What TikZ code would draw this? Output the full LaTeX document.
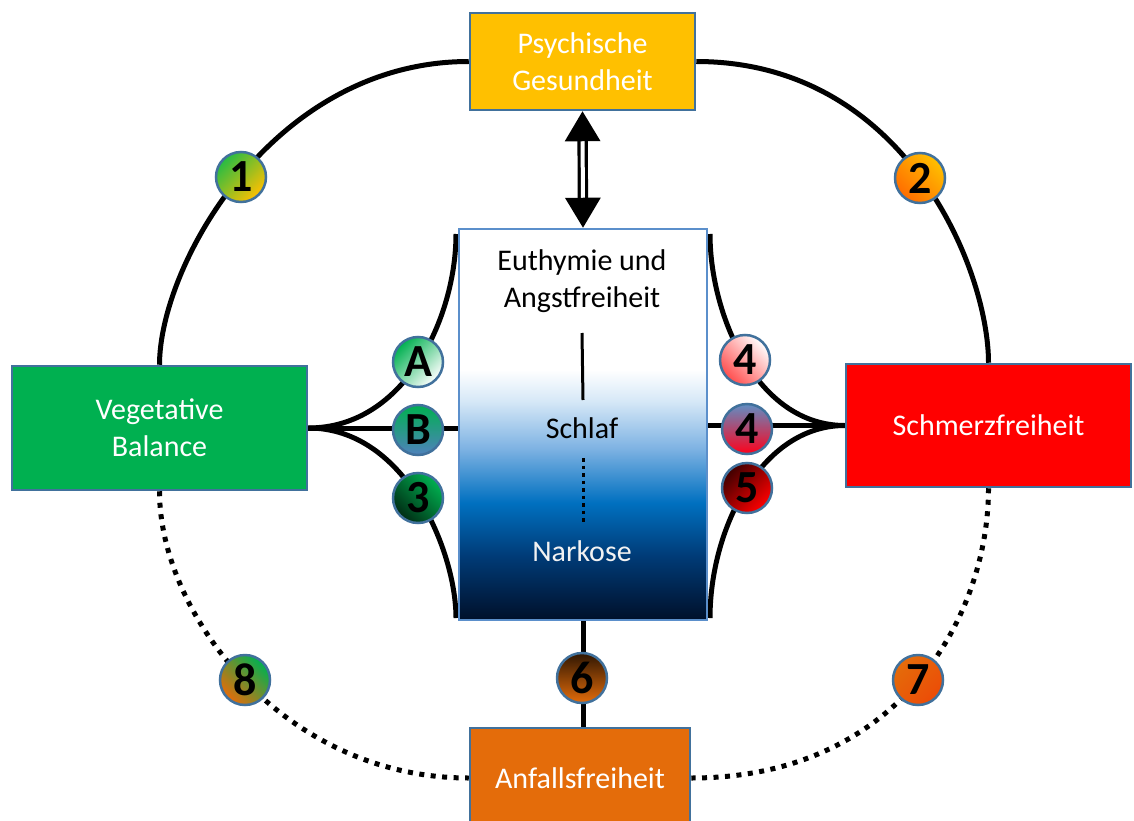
\documentclass[tikz,border=0pt]{standalone}
\usepackage{fontspec}
\setmainfont{Carlito}
\usetikzlibrary{arrows.meta,calc,backgrounds}
\definecolor{bordc}{HTML}{41719C}
\definecolor{ctrbord}{HTML}{5B8FCB}
\definecolor{gold}{HTML}{FFC000}
\definecolor{vgreen}{HTML}{00B050}
\definecolor{sred}{HTML}{FF0000}
\definecolor{aorange}{HTML}{E46C0A}
\definecolor{navyd}{HTML}{00102A}
\definecolor{navym}{HTML}{003A75}
\definecolor{bluem}{HTML}{0070C0}
\definecolor{bluel}{HTML}{7FB3E3}
\definecolor{bluevl}{HTML}{D6E8F7}
\definecolor{nwhite}{HTML}{F2F2F2}
\definecolor{sblue}{HTML}{4F81BD}
\pgfdeclareverticalshading{ctrshade}{100bp}{color(0bp)=(navyd); color(25bp)=(navyd); color(33bp)=(navym); color(40bp)=(bluem); color(47bp)=(bluel); color(53bp)=(bluevl); color(57bp)=(white); color(100bp)=(white)}
\begin{document}
\begin{tikzpicture}[x=1pt,y=-1pt,
  box/.style={draw=bordc, line width=2.5pt, inner sep=0pt, text=white,
    font=\fontsize{30}{37}\selectfont, align=center},
  conn/.style={line width=5pt, black},
  dotconn/.style={line width=5pt, black, dash pattern=on 5pt off 6.5pt},
  badge/.style={circle, draw=bordc, line width=2.5pt, minimum size=50pt,
    inner sep=0pt, font=\fontsize{46}{46}\selectfont\bfseries},
  ctext/.style={font=\fontsize{30}{37}\selectfont, align=center, inner sep=0pt},
  dblarr/.style={line width=3.2pt, double=white, double distance=4pt,
    {Triangle[length=30pt,width=35pt]}-{Triangle[length=30pt,width=35pt]}},
]
\path[use as bounding box] (0,0) rectangle (1134,821);
\clip (0,0) rectangle (1134,821);

% boxes
\node[box, fill=gold, minimum width=225pt, minimum height=97pt] (psy) at (582.5,61.5) {Psychische\\Gesundheit};
\node[box, fill=vgreen, minimum width=295pt, minimum height=124pt] (veg) at (159.5,428) {Vegetative\\Balance};
\node[box, fill=sred, minimum width=285pt, minimum height=123pt] (schm) at (988.5,425.5) {Schmerzfreiheit};
\node[box, fill=aorange, minimum width=220pt, minimum height=100pt] (anf) at (580,778) {Anfallsfreiheit};
\node[draw=ctrbord, line width=2.5pt, shade, shading=ctrshade, minimum width=248pt, minimum height=391pt, inner sep=0pt] (ctr) at (583,424.5) {};

% texts inside centre box
\node[ctext] (eu) at (582,281) {Euthymie und\\Angstfreiheit};
\node[ctext] (sch) at (582,428) {Schlaf};
\node[ctext, text=nwhite] (nar) at (582,551) {Narkose};
\coordinate (s1) at (582,333);
\coordinate (s2) at (583,400);
\coordinate (d1) at (583,458);
\coordinate (d2) at (583,523);
\draw[line width=3pt] (s1) -- (s2);
\draw[line width=3pt, dash pattern=on 3.5pt off 4pt] (d1) -- (d2);

% anchor points on the centre box
\coordinate (ctrTL) at (456,234);
\coordinate (ctrBL) at (456,618);
\coordinate (ctrTR) at (710,234);
\coordinate (ctrBR) at (710,618);

\begin{pgfonlayer}{background}
% outer ring
\draw[conn] (veg.north) .. controls +(0,-99) and +(-196,0) .. (psy.west);
\draw[conn] (schm.north) .. controls +(0,-93) and +(209,0) .. (psy.east);
\draw[dotconn] (veg.south) .. controls +(0,123) and +(-185,0) .. (anf.west);
\draw[dotconn] (schm.south) .. controls +(0,127) and +(209,0) .. (anf.east);
% fans
\draw[conn] (veg.east) .. controls +(97,0) and +(0,83) .. (ctrTL);
\draw[conn] (veg.east) -- (veg.east -| ctr.west);
\draw[conn] (veg.east) .. controls +(97,0) and +(0,-67) .. (ctrBL);
\draw[conn] (schm.west) .. controls +(-88,0) and +(0,81) .. (ctrTR);
\draw[conn] (schm.west) -- (schm.west -| ctr.east);
\draw[conn] (schm.west) .. controls +(-83,0) and +(0,-90) .. (ctrBR);
\draw[conn] (ctr.south) -- (ctr.south |- anf.north);
\end{pgfonlayer}

% double arrow
\draw[dblarr] (psy.south) -- (ctr.north);

% badges
\node[badge, left color=vgreen!85!yellow, right color=gold, shading angle=45] (b1) at (241,177) {1};
\node[badge, left color=gold, right color=orange!85!red, shading angle=-45] (b2) at (920,178) {2};
\node[badge, left color=vgreen, right color=white, shading angle=45] (bA) at (418,362) {A};
\node[badge, left color=vgreen, right color=sblue, shading angle=0] (bB) at (418,430) {B};
\node[badge, left color=vgreen, right color=vgreen!25!black, shading angle=-45] (b3) at (418,498) {3};
\node[badge, left color=white, right color=sred!70!white, shading angle=-45] (b4a) at (745,360) {4};
\node[badge, left color=sblue!90!white, right color=sred!90!magenta, shading angle=0] (b4b) at (747,429) {4};
\node[badge, left color=sred!25!black, right color=sred, shading angle=45] (b5) at (747,488) {5};
\node[badge, top color=aorange!20!black, bottom color=aorange, shading angle=0] (b6) at (582,678) {6};
\node[badge, left color=aorange, right color=aorange!70!sred, shading angle=45] (b7) at (918,680) {7};
\node[badge, left color=vgreen, right color=aorange, shading angle=-45] (b8) at (245,680) {8};
\end{tikzpicture}
\end{document}
